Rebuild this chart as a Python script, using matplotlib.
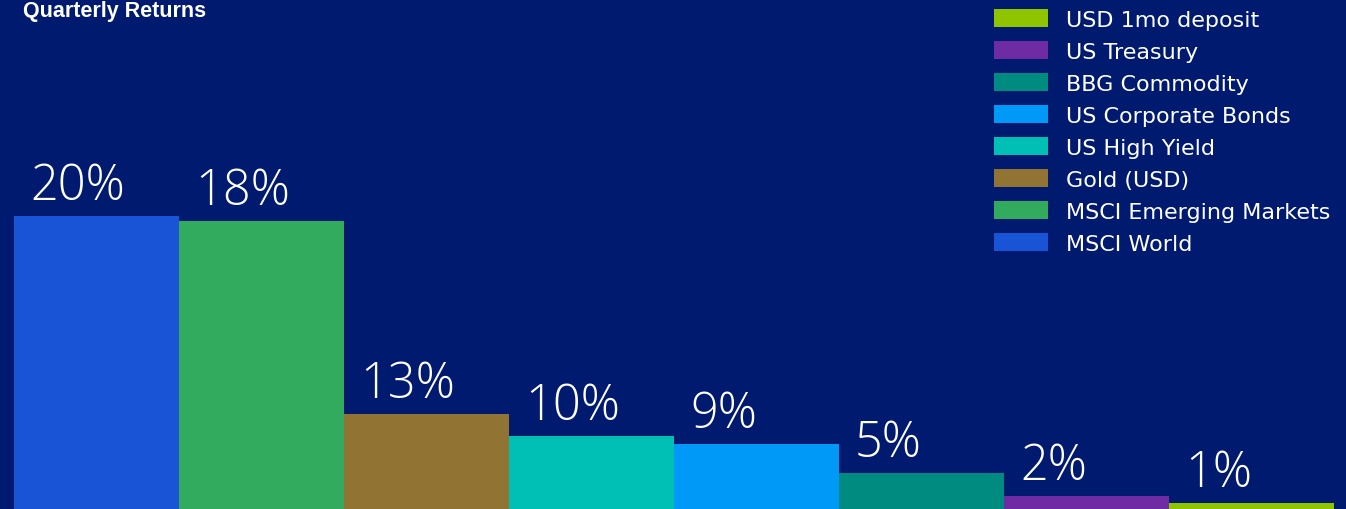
import matplotlib
matplotlib.use('agg')
import matplotlib.pyplot as plt

# assets, in the order the bars are drawn (left to right)
assets = ['MSCI World', 'MSCI Emerging Markets', 'Gold (USD)', 'US High Yield',
          'US Corporate Bonds', 'BBG Commodity', 'US Treasury', 'USD 1mo deposit']
labels = ['20%', '18%', '13%', '10%', '9%', '5%', '2%', '1%']
# bar heights as drawn in the picture
heights = [40.1, 39.4, 13.0, 10.0, 8.9, 4.9, 1.8, 0.8]
colors = ['#1a54d6', '#33ab5f', '#917333', '#00bfb5',
          '#0099f7', '#008b80', '#6e2ba3', '#8fc400']

bg = '#001a70'

fig = plt.figure(figsize=(13.46, 5.10), dpi=100, facecolor=bg)
ax = fig.add_axes([0, 0, 1, 1])
ax.set_facecolor(bg)

xs = list(range(len(heights)))
bars = ax.bar(xs, heights, width=1.0, align='edge', color=colors, linewidth=0)

for x, h, lab in zip(xs, heights, labels):
    ax.annotate(lab, xy=(x, h), xytext=(16, 17), textcoords='offset pixels',
                ha='left', va='baseline', color='white', fontsize=35,
                family=['Open Sans', 'DejaVu Sans'], fontweight='light')

ax.set_xlim(-14 / 165, 8 + 12 / 165)
ax.set_ylim(0, 510 / 7.3)
ax.axis('off')

# legend, reversed so the smallest sits on top
handles = list(bars)[::-1]
names = assets[::-1]
ax.legend(handles, names, loc='upper left', bbox_to_anchor=(994 / 1346, 1 - 10 / 510),
          frameon=False, fontsize=16, labelcolor='white',
          handlelength=2.43, handleheight=0.9, handletextpad=0.81,
          labelspacing=0.5, borderpad=0, borderaxespad=0)

fig.text(23 / 1346, 1 - 17.3 / 510, 'Quarterly Returns', color='white',
         fontsize=15.5, fontweight='bold', ha='left', va='baseline',
         family=['Liberation Sans', 'DejaVu Sans'])

fig.savefig('out.png', dpi=100, facecolor=bg)
